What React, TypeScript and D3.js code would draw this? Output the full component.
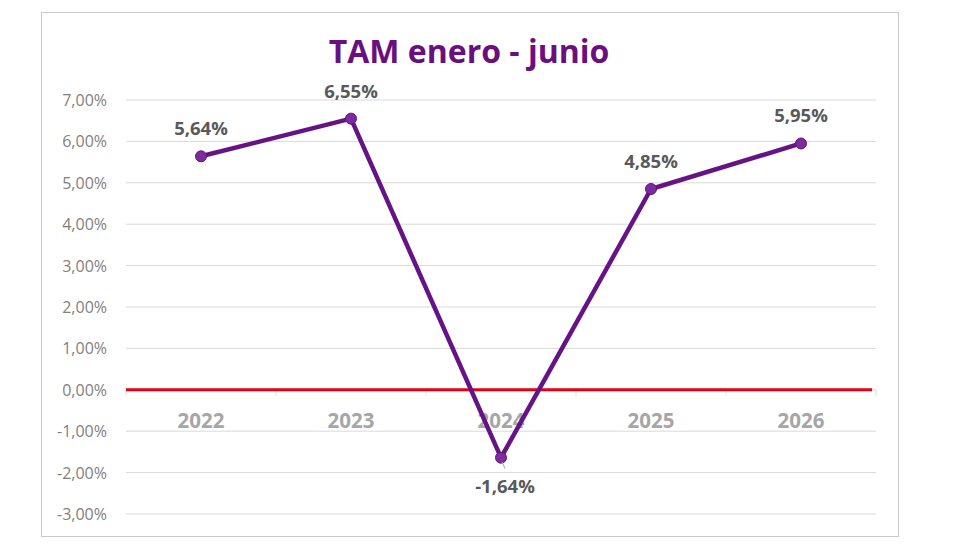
import React from "react";
import * as d3 from "d3";

const years = ["2022", "2023", "2024", "2025", "2026"];
const tam = [5.64, 6.55, -1.64, 4.85, 5.95];
const yTicks = [7, 6, 5, 4, 3, 2, 1, 0, -1, -2, -3];
const title = "TAM enero - junio";

const W = 980;
const H = 560;
const plot = { left: 126, right: 876, top: 100, bottom: 514 };

const fmt = (v: number) => v.toFixed(2).replace(".", ",") + "%";

export default function App() {
  const x = d3
    .scaleBand<string>()
    .domain(years)
    .range([plot.left, plot.right])
    .paddingInner(0)
    .paddingOuter(0);
  const y = d3.scaleLinear().domain([-3, 7]).range([plot.bottom, plot.top]);
  const cx = (d: string) => (x(d) as number) + x.bandwidth() / 2;
  const line = d3
    .line<number>()
    .x((_, i) => cx(years[i]))
    .y((d) => y(d));
  const font = "'Open Sans', 'Noto Sans', sans-serif";
  const y0 = y(0);

  return (
    <svg
      width={W}
      height={H}
      style={{ position: "absolute", left: 0, top: 0, background: "#fff" }}
      fontFamily={font}
    >
      <rect x={41.5} y={12.5} width={857} height={524} fill="#fff" stroke="#c9c9c9" strokeWidth={1} />
      <text x={469} y={63} textAnchor="middle" fontSize={32} fontWeight={700} fill="#6a0f80">
        {title}
      </text>
      {yTicks.map((t) => (
        <g key={t}>
          {t !== 0 && (
            <line x1={plot.left} x2={plot.right} y1={y(t)} y2={y(t)} stroke="#d9d9d9" strokeWidth={1} />
          )}
          <text x={107} y={y(t) + 6} textAnchor="end" fontSize={16} fill="#7f7f7f">
            {fmt(t)}
          </text>
        </g>
      ))}
      <line x1={plot.left} x2={plot.right} y1={y0} y2={y0} stroke="#d9d9d9" strokeWidth={1} />
      {d3.range(years.length + 1).map((i) => {
        const xp = i < years.length ? (x(years[i]) as number) : plot.right;
        return <line key={i} x1={xp} x2={xp} y1={y0} y2={y0 + 6} stroke="#d9d9d9" strokeWidth={1} />;
      })}
      {years.map((yr) => (
        <text key={yr} x={cx(yr)} y={y0 + 38} textAnchor="middle" fontSize={20.5} fontWeight={700} fill="#a6a6a6">
          {yr}
        </text>
      ))}
      <line x1={plot.left} x2={872} y1={y0} y2={y0} stroke="#e60012" strokeWidth={3} />
      <path d={line(tam) || ""} fill="none" stroke="#661485" strokeWidth={4.5} strokeLinejoin="round" />
      {tam.map((v, i) => (
        <circle key={i} cx={cx(years[i])} cy={y(v)} r={5.5} fill="#7c2b9f" stroke="#5e1478" strokeWidth={1} />
      ))}
      {tam.map((v, i) => {
        const px = cx(years[i]);
        const py = y(v);
        if (v < 0) {
          return (
            <g key={i}>
              <line x1={px + 1} y1={py + 4} x2={px + 4} y2={py + 11} stroke="#a6a6a6" strokeWidth={1} />
              <text x={px + 4} y={py + 35} textAnchor="middle" fontSize={18.5} fontWeight={700} fill="#595959">
                {fmt(v)}
              </text>
            </g>
          );
        }
        return (
          <text key={i} x={px} y={py - 21} textAnchor="middle" fontSize={18.5} fontWeight={700} fill="#595959">
            {fmt(v)}
          </text>
        );
      })}
    </svg>
  );
}
